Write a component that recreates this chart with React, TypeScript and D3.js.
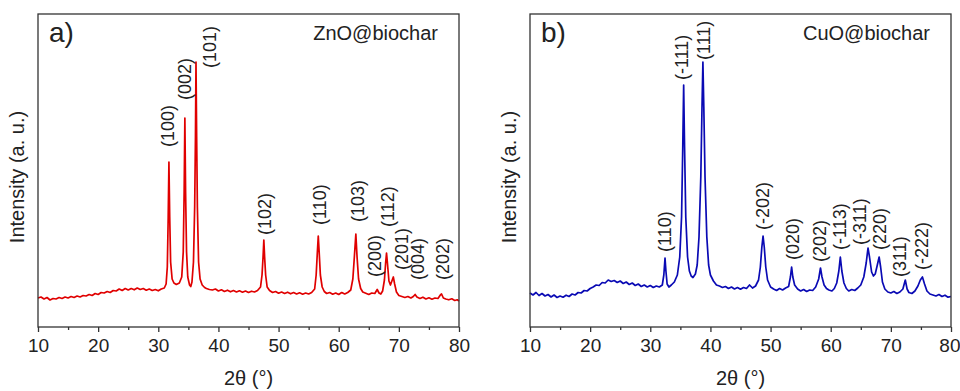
import * as d3 from "d3";
import React, { useEffect, useRef } from "react";

// ZnO@biochar pattern, [2theta, intensity a.u.]
const znoPattern: [number, number][] = [
  [10, 290], [10.5, 300], [11, 280], [11.5, 295], [12, 270], [12.5, 285], [13, 280], [13.5, 295],
  [14, 285], [14.5, 300], [15, 290], [15.5, 305], [16, 295], [16.5, 310], [17, 300], [17.5, 315],
  [18, 310], [18.5, 325], [19, 315], [19.5, 335], [20, 325], [20.5, 345], [21, 340], [21.5, 355],
  [22, 345], [22.5, 365], [23, 360], [23.5, 380], [24, 365], [24.5, 385], [25, 370], [25.5, 385],
  [26, 372], [26.5, 390], [27, 375], [27.5, 385], [28, 368], [28.5, 380], [29, 365], [29.5, 375],
  [30, 362], [30.5, 380], [31, 390], [31.3, 430], [31.5, 600], [31.65, 1100], [31.77, 1650],
  [31.9, 1100], [32.05, 650], [32.3, 480], [32.6, 440], [33, 425], [33.5, 440], [33.9, 500],
  [34.15, 750], [34.3, 1350], [34.42, 2090], [34.54, 1350], [34.7, 750], [34.9, 500], [35.2, 420],
  [35.4, 405], [35.6, 450], [35.85, 650], [36.05, 1200], [36.18, 1900], [36.27, 2650], [36.38, 1900],
  [36.5, 1200], [36.7, 650], [36.95, 480], [37.3, 420], [37.7, 395], [38, 385], [38.5, 375],
  [39, 370], [39.5, 380], [40, 360], [40.5, 372], [41, 355], [41.5, 368], [42, 352], [42.5, 365],
  [43, 350], [43.5, 362], [44, 348], [44.5, 360], [45, 345], [45.5, 358], [46, 350], [46.5, 365],
  [47, 400], [47.25, 520], [47.42, 700], [47.55, 870], [47.68, 700], [47.85, 520], [48.1, 400],
  [48.5, 365], [49, 345], [49.5, 355], [50, 338], [50.5, 350], [51, 335], [51.5, 348], [52, 332],
  [52.5, 345], [53, 330], [53.5, 342], [54, 328], [54.5, 340], [55, 330], [55.5, 345], [56, 380],
  [56.25, 520], [56.45, 750], [56.6, 910], [56.75, 750], [56.95, 520], [57.25, 400], [57.6, 355],
  [58, 335], [58.5, 345], [59, 328], [59.5, 340], [60, 325], [60.5, 345], [61, 330], [61.5, 345],
  [62, 370], [62.35, 480], [62.6, 700], [62.85, 930], [63.05, 700], [63.3, 480], [63.65, 385],
  [64, 350], [64.5, 338], [65, 325], [65.5, 340], [66, 335], [66.4, 375], [66.7, 340], [67, 330],
  [67.3, 360], [67.6, 470], [67.8, 640], [67.95, 740], [68.1, 640], [68.35, 460], [68.6, 420],
  [68.9, 470], [69.08, 500], [69.3, 430], [69.6, 350], [70, 315], [70.5, 305], [71, 295],
  [71.5, 305], [72, 290], [72.4, 305], [72.7, 325], [73, 300], [73.5, 285], [74, 298], [74.5, 280],
  [75, 292], [75.5, 278], [76, 290], [76.5, 285], [76.9, 320], [77.1, 330], [77.4, 290], [77.8, 280],
  [78.3, 272], [78.8, 282], [79.3, 265], [79.7, 272], [80, 260],
];

// CuO@biochar pattern
const cuoPattern: [number, number][] = [
  [10, 340], [10.5, 320], [11, 345], [11.5, 315], [12, 335], [12.5, 310], [13, 325], [13.5, 300],
  [14, 320], [14.5, 295], [15, 310], [15.5, 298], [16, 318], [16.5, 305], [17, 330], [17.5, 320],
  [18, 345], [18.5, 340], [19, 365], [19.5, 360], [20, 385], [20.5, 400], [21, 420], [21.5, 415],
  [22, 445], [22.5, 440], [23, 470], [23.5, 455], [24, 465], [24.5, 445], [25, 460], [25.5, 435],
  [26, 450], [26.5, 425], [27, 440], [27.5, 415], [28, 430], [28.5, 405], [29, 420], [29.5, 400],
  [30, 415], [30.5, 395], [31, 410], [31.5, 400], [32, 420], [32.25, 520], [32.45, 690], [32.6, 560],
  [32.8, 430], [33.1, 400], [33.5, 420], [34, 450], [34.5, 520], [34.9, 700], [35.2, 1100],
  [35.4, 1800], [35.55, 2420], [35.7, 1800], [35.9, 1100], [36.2, 700], [36.5, 560], [36.8, 510],
  [37.1, 495], [37.5, 530], [37.8, 620], [38.1, 900], [38.4, 1500], [38.6, 2200], [38.75, 2650],
  [38.9, 2200], [39.1, 1500], [39.4, 900], [39.7, 620], [40, 520], [40.5, 460], [41, 420],
  [41.5, 410], [42, 395], [42.5, 405], [43, 385], [43.5, 400], [44, 380], [44.5, 395], [45, 378],
  [45.5, 395], [46, 385], [46.5, 420], [47, 390], [47.5, 410], [48, 470], [48.3, 600], [48.55, 800],
  [48.75, 910], [48.95, 800], [49.2, 600], [49.5, 470], [50, 400], [50.5, 380], [51, 365],
  [51.5, 385], [52, 370], [52.5, 390], [53, 405], [53.3, 500], [53.5, 600], [53.7, 500], [54, 420],
  [54.5, 380], [55, 360], [55.5, 375], [56, 355], [56.5, 370], [57, 365], [57.5, 400], [58, 480],
  [58.3, 590], [58.55, 500], [58.9, 420], [59.3, 385], [59.7, 370], [60.2, 360], [60.6, 385],
  [61, 440], [61.35, 560], [61.6, 700], [61.85, 560], [62.2, 440], [62.6, 385], [63, 360],
  [63.5, 375], [64, 365], [64.5, 390], [65, 420], [65.5, 500], [65.9, 640], [66.2, 790], [66.45, 700],
  [66.8, 550], [67.1, 510], [67.4, 530], [67.75, 620], [68.05, 700], [68.3, 600], [68.6, 450],
  [69, 380], [69.5, 350], [70, 340], [70.5, 355], [71, 335], [71.5, 350], [72, 380], [72.4, 470],
  [72.7, 380], [73, 345], [73.5, 335], [74, 360], [74.5, 410], [74.9, 470], [75.25, 500], [75.6, 430],
  [76, 360], [76.5, 330], [77, 320], [77.5, 310], [78, 325], [78.5, 305], [79, 318], [79.5, 298],
  [80, 305],
];

// peak labels: text, 2theta, intensity where the label starts
const znoLabels: [string, number, number][] = [
  ["(100)", 31.6, 1800], ["(002)", 34.4, 2270], ["(101)", 38.6, 2590], ["(102)", 47.7, 920],
  ["(110)", 56.9, 1020], ["(103)", 63.2, 1050], ["(200)", 66.0, 500], ["(112)", 68.2, 1000],
  ["(201)", 70.5, 570], ["(004)", 73.2, 470], ["(202)", 77.3, 470],
];
const cuoLabels: [string, number, number][] = [
  ["(110)", 32.4, 750], ["(-111)", 35.3, 2470], ["(111)", 38.9, 2670], ["(-202)", 48.7, 970],
  ["(020)", 53.6, 670], ["(202)", 58.2, 650], ["(-113)", 61.5, 770], ["(-311)", 64.9, 820],
  ["(220)", 68.2, 770], ["(311)", 71.5, 500], ["(-222)", 75.2, 570],
];

const xTicks = [10, 20, 30, 40, 50, 60, 70, 80];
const font = "'Liberation Sans', Arial, sans-serif";

export default function App() {
  const svgRef = useRef<SVGSVGElement>(null);
  const width = 960;
  const height = 391;

  useEffect(() => {
    const svg = d3.select(svgRef.current);
    svg.selectAll("*").remove();

    const drawPanel = (
      left: number,
      data: [number, number][],
      labels: [string, number, number][],
      color: string,
      tag: string,
      name: string
    ) => {
      const w = 421;
      const top = 14;
      const bottom = 327;
      const x = d3.scaleLinear().domain([10, 80]).range([left, left + w]);
      const y = d3.scaleLinear().domain([0, 3130]).range([bottom, top]);
      const g = svg.append("g");

      // trace
      const line = d3
        .line<[number, number]>()
        .x((d) => x(d[0]))
        .y((d) => y(d[1]));
      g.append("path")
        .datum(data)
        .attr("d", line)
        .attr("fill", "none")
        .attr("stroke", color)
        .attr("stroke-width", 1.7)
        .attr("stroke-linejoin", "round");

      // frame
      g.append("rect")
        .attr("x", left)
        .attr("y", top)
        .attr("width", w)
        .attr("height", bottom - top)
        .attr("fill", "none")
        .attr("stroke", "#333")
        .attr("stroke-width", 1.3);

      // x axis
      const ax = g
        .append("g")
        .attr("transform", "translate(0," + bottom + ")")
        .call(
          d3.axisBottom(x).tickValues(xTicks).tickSize(5).tickSizeOuter(0).tickPadding(7)
        );
      ax.select(".domain").remove();
      ax.selectAll("line").attr("stroke", "#333").attr("stroke-width", 1.3);
      ax.selectAll("text")
        .attr("font-family", font)
        .attr("font-size", 19)
        .attr("fill", "#222");
      // keep the last label of the right panel inside the page
      if (left + w > 940) {
        ax.selectAll<SVGTextElement, number>("text")
          .filter((d) => d === 80)
          .attr("text-anchor", "end")
          .attr("dx", 9);
      }
      const minor = g
        .append("g")
        .attr("transform", "translate(0," + bottom + ")")
        .call(d3.axisBottom(x).tickValues([15, 25, 35, 45, 55, 65, 75]).tickSize(3).tickFormat(() => ""));
      minor.select(".domain").remove();
      minor.selectAll("line").attr("stroke", "#333").attr("stroke-width", 1.3);

      // peak labels
      g.selectAll("text.peak")
        .data(labels)
        .enter()
        .append("text")
        .attr("class", "peak")
        .attr("transform", (d) => "translate(" + x(d[1]) + "," + y(d[2]) + ")rotate(-90)")
        .attr("dy", "0.35em")
        .attr("font-family", font)
        .attr("font-size", 18)
        .attr("fill", "#222")
        .text((d) => d[0]);

      g.append("text")
        .attr("x", left + 11)
        .attr("y", 42)
        .attr("font-family", font)
        .attr("font-size", 28)
        .attr("fill", "#222")
        .text(tag);
      g.append("text")
        .attr("x", left + w - 21)
        .attr("y", 40)
        .attr("text-anchor", "end")
        .attr("font-family", font)
        .attr("font-size", 20)
        .attr("fill", "#222")
        .text(name);

      // axis titles
      g.append("text")
        .attr("x", left + w / 2)
        .attr("y", 385)
        .attr("text-anchor", "middle")
        .attr("font-family", font)
        .attr("font-size", 20)
        .attr("fill", "#222")
        .text("2θ (°)");
      g.append("text")
        .attr("transform", "translate(" + (left - 21) + ",177)rotate(-90)")
        .attr("dy", "0.35em")
        .attr("text-anchor", "middle")
        .attr("font-family", font)
        .attr("font-size", 20)
        .attr("fill", "#222")
        .text("Intensity (a. u.)");
    };

    drawPanel(38, znoPattern, znoLabels, "#e00000", "a)", "ZnO@biochar");
    drawPanel(530, cuoPattern, cuoLabels, "#0a0ab4", "b)", "CuO@biochar");
  });

  return (
    <svg
      width={width}
      height={height}
      ref={svgRef}
      style={{ position: "absolute", left: 0, top: 0, background: "#fff" }}
    ></svg>
  );
}
